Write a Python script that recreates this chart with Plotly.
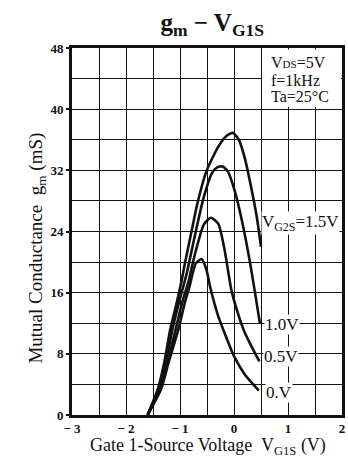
import plotly.graph_objects as go

# Gate-1 voltage (V) / transconductance (mS) samples for each Gate-2 bias
vg1s_15 = [-1.6, -1.41, -1.29, -1.18, -1.06, -0.97, -0.91, -0.79, -0.68, -0.51, -0.29, -0.14, -0.02, 0.09, 0.2, 0.32, 0.42, 0.5]
gm_15 = [0, 3.4, 6.9, 11.2, 14.7, 17.6, 19.8, 23.9, 27.6, 31.9, 35.1, 36.5, 36.9, 36.0, 33.6, 29.7, 26.0, 22.0]

vg1s_10 = [-1.6, -1.39, -1.26, -1.14, -1.02, -0.88, -0.79, -0.68, -0.56, -0.41, -0.31, -0.21, -0.11, 0.03, 0.15, 0.3, 0.48]
gm_10 = [0, 3.4, 6.9, 11.2, 14.7, 18.4, 21.3, 24.9, 28.5, 31.6, 32.4, 32.5, 31.8, 28.9, 25.3, 19.8, 12.0]

vg1s_05 = [-1.6, -1.37, -1.23, -1.08, -0.96, -0.84, -0.79, -0.68, -0.56, -0.43, -0.29, -0.18, -0.05, 0.05, 0.18, 0.3, 0.47]
gm_05 = [0, 3.4, 6.9, 11.2, 14.7, 17.5, 19.1, 22.2, 24.9, 25.8, 25.0, 21.8, 16.4, 13.8, 11.1, 9.3, 7.0]

vg1s_00 = [-1.6, -1.35, -1.21, -1.03, -0.91, -0.82, -0.71, -0.6, -0.51, -0.44, -0.3, -0.19, 0.0, 0.2, 0.46]
gm_00 = [0, 3.4, 6.9, 11.2, 14.7, 16.9, 19.8, 20.4, 19.0, 16.7, 13.1, 11.0, 7.7, 5.3, 3.2]

x_tick_vals = [-3, -2, -1, 0, 1, 2]
x_tick_text = ["\u2212 3", "\u2212 2", "\u2212 1", "0", "1", "2"]
y_tick_vals = [0, 8, 16, 24, 32, 40, 48]
y_tick_text = ["0", "8", "16", "24", "32", "40", "48"]

SERIF = "Liberation Serif, Times New Roman, serif"
INK = "#111111"

fig = go.Figure()
for xs, ys in [(vg1s_00, gm_00), (vg1s_05, gm_05), (vg1s_10, gm_10), (vg1s_15, gm_15)]:
    fig.add_trace(go.Scatter(
        x=xs, y=ys, mode="lines",
        line=dict(color=INK, width=2.6, shape="spline", smoothing=0.6),
        showlegend=False, hoverinfo="skip",
    ))

# white panel behind the test conditions, covering the grid
fig.add_shape(type="rect", xref="x", yref="y", x0=0.52, x1=1.98, y0=40.3, y1=47.8,
              fillcolor="white", line=dict(width=0), layer="between")

cond_font = dict(family=SERIF, size=16, color=INK)
for txt, yv in [("V<span style='font-size:11px'>DS</span>=5V", 46.1),
                ("f=1kHz", 43.8), ("Ta=25\u00b0C", 41.7)]:
    fig.add_annotation(x=0.64, y=yv, xref="x", yref="y", text=txt, showarrow=False,
                       xanchor="left", yanchor="middle", font=cond_font)

lab_font = dict(family=SERIF, size=17, color=INK)
for txt, xv, yv in [("V<sub>G2S</sub>=1.5V", 0.5, 25.1), ("1.0V", 0.55, 11.9),
                    ("0.5V", 0.53, 7.6), ("0.V", 0.57, 3.0)]:
    fig.add_annotation(x=xv, y=yv, xref="x", yref="y", text=txt, showarrow=False,
                       xanchor="left", yanchor="middle", font=lab_font,
                       bgcolor="white", borderpad=0)

fig.add_annotation(x=-0.183, y=0.455, xref="paper", yref="paper",
                   text="Mutual Conductance  g<sub>m</sub> (mS)", textangle=-90,
                   showarrow=False, font=dict(family=SERIF, size=19, color=INK))
fig.add_annotation(x=0.505, y=-0.087, xref="paper", yref="paper",
                   text="Gate 1-Source Voltage  V<sub>G1S</sub> (V)",
                   showarrow=False, yanchor="middle",
                   font=dict(family=SERIF, size=18, color=INK))

fig.update_layout(
    width=348, height=462,
    margin=dict(l=72, r=3, t=48, b=47),
    paper_bgcolor="white", plot_bgcolor="white",
    title=dict(
        text="<b>g<sub>m</sub> \u2212 V<sub>G1S</sub></b>",
        x=0.61, xanchor="center", y=0.952, yanchor="middle",
        font=dict(family=SERIF, size=25, color=INK),
    ),
)
fig.update_xaxes(
    range=[-3, 2], tickvals=x_tick_vals, ticktext=x_tick_text,
    showgrid=True, gridcolor=INK, gridwidth=1.4,
    minor=dict(dtick=0.5, tick0=0, showgrid=True, gridcolor=INK, gridwidth=1.4, ticks=""),
    showline=True, linecolor=INK, linewidth=2.6, mirror=True,
    ticks="", zeroline=False,
    tickfont=dict(family=SERIF, size=13, color=INK, weight="bold"),
)
fig.update_yaxes(
    range=[0, 48], tickvals=y_tick_vals, ticktext=y_tick_text,
    showgrid=True, gridcolor=INK, gridwidth=1.4,
    minor=dict(dtick=4, tick0=0, showgrid=True, gridcolor=INK, gridwidth=1.4, ticks=""),
    showline=True, linecolor=INK, linewidth=2.6, mirror=True,
    ticks="outside", ticklen=3, tickwidth=1.5, tickcolor=INK, zeroline=False,
    tickfont=dict(family=SERIF, size=13, color=INK, weight="bold"),
)

fig.write_html("out.html")
